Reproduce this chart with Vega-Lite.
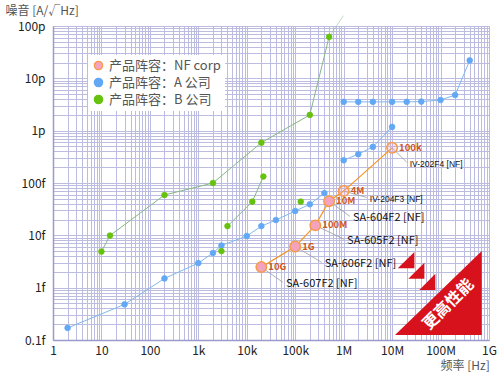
{
  "$schema": "https://vega.github.io/schema/vega-lite/v6.json",
  "width": 436,
  "height": 314,
  "autosize": {"type": "none"},
  "padding": {"left": 53, "top": 26, "right": 11, "bottom": 37},
  "background": "white",
  "config": {"font": "Noto Sans CJK SC", "view": {"stroke": null}},
  "datasets": {
    "pts": [
      {"s": "产品阵容：A 公司", "seg": "a1", "f": 2, "n": 1.7e-16},
      {"s": "产品阵容：A 公司", "seg": "a1", "f": 30, "n": 4.8e-16},
      {"s": "产品阵容：A 公司", "seg": "a1", "f": 200, "n": 1.5e-15},
      {"s": "产品阵容：A 公司", "seg": "a1", "f": 1000, "n": 2.95e-15},
      {"s": "产品阵容：A 公司", "seg": "a1", "f": 2000, "n": 4.6e-15},
      {"s": "产品阵容：A 公司", "seg": "a1", "f": 3000, "n": 6.4e-15},
      {"s": "产品阵容：A 公司", "seg": "a1", "f": 10000, "n": 9.7e-15},
      {"s": "产品阵容：A 公司", "seg": "a1", "f": 20000, "n": 1.5e-14},
      {"s": "产品阵容：A 公司", "seg": "a1", "f": 40000, "n": 1.96e-14},
      {"s": "产品阵容：A 公司", "seg": "a1", "f": 100000, "n": 2.92e-14},
      {"s": "产品阵容：A 公司", "seg": "a1", "f": 200000, "n": 3.92e-14},
      {"s": "产品阵容：A 公司", "seg": "a1", "f": 400000, "n": 6.4e-14},
      {"s": "产品阵容：A 公司", "seg": "a2", "f": 1000000, "n": 2.72e-13},
      {"s": "产品阵容：A 公司", "seg": "a2", "f": 2000000, "n": 3.55e-13},
      {"s": "产品阵容：A 公司", "seg": "a2", "f": 4000000, "n": 4.9e-13},
      {"s": "产品阵容：A 公司", "seg": "a2", "f": 10000000, "n": 1.18e-12},
      {"s": "产品阵容：A 公司", "seg": "a3", "f": 1000000, "n": 3.55e-12},
      {"s": "产品阵容：A 公司", "seg": "a3", "f": 2000000, "n": 3.55e-12},
      {"s": "产品阵容：A 公司", "seg": "a3", "f": 4000000, "n": 3.55e-12},
      {"s": "产品阵容：A 公司", "seg": "a3", "f": 10000000, "n": 3.55e-12},
      {"s": "产品阵容：A 公司", "seg": "a3", "f": 20000000, "n": 3.55e-12},
      {"s": "产品阵容：A 公司", "seg": "a3", "f": 40000000, "n": 3.6e-12},
      {"s": "产品阵容：A 公司", "seg": "a3", "f": 100000000, "n": 3.85e-12},
      {"s": "产品阵容：A 公司", "seg": "a3", "f": 200000000, "n": 4.8e-12},
      {"s": "产品阵容：A 公司", "seg": "a3", "f": 400000000, "n": 2.2e-11},
      {"s": "产品阵容：B 公司", "seg": "b1", "f": 10, "n": 4.9e-15},
      {"s": "产品阵容：B 公司", "seg": "b1", "f": 15, "n": 9.9e-15},
      {"s": "产品阵容：B 公司", "seg": "b1", "f": 200, "n": 5.9e-14},
      {"s": "产品阵容：B 公司", "seg": "b1", "f": 2000, "n": 1e-13},
      {"s": "产品阵容：B 公司", "seg": "b1", "f": 20000, "n": 5.9e-13},
      {"s": "产品阵容：B 公司", "seg": "b1", "f": 200000, "n": 2e-12},
      {"s": "产品阵容：B 公司", "seg": "b1", "f": 500000, "n": 6.2e-11},
      {"s": "产品阵容：B 公司", "seg": "b2", "f": 4000, "n": 1.5e-14},
      {"s": "产品阵容：B 公司", "seg": "b2", "f": 13000, "n": 4.4e-14},
      {"s": "产品阵容：B 公司", "seg": "b2", "f": 22000, "n": 1.33e-13},
      {"s": "产品阵容：B 公司", "seg": "b3", "f": 3000, "n": 5e-15},
      {"s": "产品阵容：B 公司", "seg": "b4", "f": 130000, "n": 4.4e-14},
      {"s": "产品阵容：NF corp", "seg": "nf", "t": "SA", "lab": "10G", "f": 20000, "n": 2.47e-15},
      {"s": "产品阵容：NF corp", "seg": "nf", "t": "SA", "lab": "1G", "f": 100000, "n": 6.1e-15},
      {"s": "产品阵容：NF corp", "seg": "nf", "t": "SA", "lab": "100M", "f": 260000, "n": 1.55e-14},
      {"s": "产品阵容：NF corp", "seg": "nf", "t": "SA", "lab": "10M", "f": 500000, "n": 4.5e-14},
      {"s": "产品阵容：NF corp", "seg": "nf", "t": "IV", "lab": "4M", "f": 1000000, "n": 7e-14},
      {"s": "产品阵容：NF corp", "seg": "nf", "t": "IV", "lab": "100k", "f": 10000000, "n": 4.7e-13}
    ],
    "ext": [
      {"f": 500000, "n": 6.2e-11},
      {"f": 985000, "n": 1.57e-10}
    ],
    "ann": [
      {"t": "SA", "f": 20000, "n": 2.47e-15, "lf": 56000, "ln": 1.26e-15, "name": "SA-607F2 [NF]"},
      {"t": "SA", "f": 100000, "n": 6.1e-15, "lf": 352000, "ln": 3.04e-15, "name": "SA-606F2 [NF]"},
      {"t": "SA", "f": 260000, "n": 1.55e-14, "lf": 1020000, "ln": 8.4e-15, "name": "SA-605F2 [NF]"},
      {"t": "SA", "f": 500000, "n": 4.5e-14, "lf": 1350000, "ln": 2.3e-14, "name": "SA-604F2 [NF]"},
      {"t": "IV", "f": 1000000, "n": 7e-14, "lf": 3000000, "ln": 5.3e-14, "name": "IV-204F3 [NF]"},
      {"t": "IV", "f": 10000000, "n": 4.7e-13, "lf": 20000000, "ln": 2.5e-13, "name": "IV-202F4 [NF]"}
    ],
    "tri": [
      {"id": "big", "f": 11500000, "n": 1.24e-16, "n2": 1.24e-16},
      {"id": "big", "f": 708000000, "n": 5.0e-15, "n2": 1.24e-16},
      {"id": "t1", "f": 13100000, "n": 2.34e-15, "n2": 2.34e-15},
      {"id": "t1", "f": 28800000, "n": 4.8e-15, "n2": 2.34e-15},
      {"id": "t2", "f": 21600000, "n": 1.48e-15, "n2": 1.48e-15},
      {"id": "t2", "f": 46300000, "n": 3.0e-15, "n2": 1.48e-15},
      {"id": "t3", "f": 36500000, "n": 8.98e-16, "n2": 8.98e-16},
      {"id": "t3", "f": 78000000, "n": 1.85e-15, "n2": 8.98e-16}
    ],
    "logo": [
      {"f": 145000000, "n": 4.8e-16, "txt": "更高性能"}
    ]
  },
  "encoding": {
    "x": {
      "field": "f", "type": "quantitative",
      "scale": {"type": "log", "domain": [1, 1000000000], "nice": false},
      "axis": {
        "title": "频率 [Hz]",
        "values": [1,2,3,4,5,6,7,8,9,10,20,30,40,50,60,70,80,90,100,200,300,400,500,600,700,800,900,1000,2000,3000,4000,5000,6000,7000,8000,9000,10000,20000,30000,40000,50000,60000,70000,80000,90000,100000,200000,300000,400000,500000,600000,700000,800000,900000,1000000,2000000,3000000,4000000,5000000,6000000,7000000,8000000,9000000,10000000,20000000,30000000,40000000,50000000,60000000,70000000,80000000,90000000,100000000,200000000,300000000,400000000,500000000,600000000,700000000,800000000,900000000,1000000000],
        "labelExpr": "datum.value==1?'1':datum.value==10?'10':datum.value==100?'100':datum.value==1000?'1k':datum.value==10000?'10k':datum.value==100000?'100k':datum.value==1000000?'1M':datum.value==10000000?'10M':datum.value==100000000?'100M':datum.value==1000000000?'1G':''",
        "grid": true, "gridColor": "#bcbce0", "gridWidth": 1,
        "ticks": false, "domainColor": "#9a9acc", "domainWidth": 1.5,
        "labelFontSize": 12, "labelColor": "#222", "labelPadding": 5,
        "labelFlush": false, "labelOverlap": false,
        "titleFontSize": 12, "titleFontWeight": "normal", "titleColor": "#555",
        "titleX": 387, "titleY": 25, "titleAlign": "left", "titleBaseline": "middle"
      }
    },
    "y": {
      "field": "n", "type": "quantitative",
      "scale": {"type": "log", "domain": [1e-16, 1e-10], "nice": false},
      "axis": {
        "title": "噪音 [A/√Hz]",
        "values": [1e-16,2e-16,3e-16,4e-16,5e-16,6e-16,7e-16,8e-16,9e-16,1e-15,2e-15,3e-15,4e-15,5e-15,6e-15,7e-15,8e-15,9e-15,1e-14,2e-14,3e-14,4e-14,5e-14,6e-14,7e-14,8e-14,9e-14,1e-13,2e-13,3e-13,4e-13,5e-13,6e-13,7e-13,8e-13,9e-13,1e-12,2e-12,3e-12,4e-12,5e-12,6e-12,7e-12,8e-12,9e-12,1e-11,2e-11,3e-11,4e-11,5e-11,6e-11,7e-11,8e-11,9e-11,1e-10],
        "labelExpr": "datum.value==1e-16?'0.1f':datum.value==1e-15?'1f':datum.value==1e-14?'10f':datum.value==1e-13?'100f':datum.value==1e-12?'1p':datum.value==1e-11?'10p':datum.value==1e-10?'100p':''",
        "grid": true, "gridColor": "#bcbce0", "gridWidth": 1,
        "ticks": false, "domainColor": "#9a9acc", "domainWidth": 1.5,
        "labelFontSize": 12, "labelColor": "#222", "labelPadding": 8,
        "labelOverlap": false,
        "titleFontSize": 12, "titleFontWeight": "normal", "titleColor": "#555",
        "titleAngle": 0, "titleX": -48, "titleY": -16, "titleAlign": "left", "titleBaseline": "middle"
      }
    }
  },
  "layer": [
    {
      "data": {"name": "tri"},
      "mark": {"type": "area", "color": "#d7121d", "opacity": 1},
      "encoding": {"y2": {"field": "n2"}, "detail": {"field": "id"}}
    },
    {
      "data": {"name": "ann"},
      "mark": {"type": "rule", "color": "#9a9a9a", "strokeWidth": 0.8},
      "encoding": {"x2": {"field": "lf"}, "y2": {"field": "ln"}}
    },
    {
      "data": {"name": "pts"},
      "transform": [{"filter": "datum.seg[0]==='a'"}],
      "mark": {"type": "line", "color": "#80b8f0", "strokeWidth": 1},
      "encoding": {"detail": {"field": "seg"}}
    },
    {
      "data": {"name": "pts"},
      "transform": [{"filter": "datum.seg[0]==='b'"}],
      "mark": {"type": "line", "color": "#86b886", "strokeWidth": 1},
      "encoding": {"detail": {"field": "seg"}}
    },
    {
      "data": {"name": "ext"},
      "mark": {"type": "line", "color": "#86b886", "strokeWidth": 1, "opacity": 0.5},
      "encoding": {}
    },
    {
      "data": {"name": "pts"},
      "transform": [{"filter": "datum.seg==='nf'"}],
      "mark": {"type": "line", "color": "#f7941d", "strokeWidth": 1.2},
      "encoding": {}
    },
    {
      "data": {"name": "pts"},
      "mark": {"type": "point", "filled": true, "opacity": 1},
      "encoding": {
        "fill": {
          "field": "s", "type": "nominal",
          "scale": {"domain": ["产品阵容：NF corp", "产品阵容：A 公司", "产品阵容：B 公司"], "range": ["#f4a3bf", "#62a8f5", "#66c20e"]},
          "legend": {
            "orient": "none", "legendX": 35, "legendY": 29, "title": null,
            "labelFontSize": 13, "labelColor": "#555", "symbolType": "circle",
            "symbolSize": 70, "symbolStrokeWidth": 1.2, "rowPadding": 2, "padding": 4,
            "fillColor": "white", "labelOffset": 4
          }
        },
        "stroke": {
          "field": "s", "type": "nominal",
          "scale": {"domain": ["产品阵容：NF corp", "产品阵容：A 公司", "产品阵容：B 公司"], "range": ["#f79a4a", "#62a8f5", "#66c20e"]},
          "legend": {
            "orient": "none", "legendX": 35, "legendY": 29, "title": null,
            "labelFontSize": 13, "labelColor": "#555", "symbolType": "circle",
            "symbolSize": 70, "symbolStrokeWidth": 1.2, "rowPadding": 2, "padding": 4,
            "fillColor": "white", "labelOffset": 4
          }
        },
        "size": {"condition": {"test": "datum.seg==='nf'", "value": 110}, "value": 32},
        "fillOpacity": {"condition": {"test": "datum.t==='IV'", "value": 0.3}, "value": 1},
        "strokeWidth": {"condition": {"test": "datum.seg==='nf'", "value": 1.5}, "value": 0.8}
      }
    },
    {
      "data": {"name": "pts"},
      "transform": [{"filter": "datum.seg==='nf'"}],
      "mark": {"type": "text", "align": "left", "baseline": "middle", "dx": 7, "dy": 0, "fontSize": 9.5, "fontWeight": "bold", "color": "#d0561e"},
      "encoding": {"text": {"field": "lab"}}
    },
    {
      "data": {"name": "ann"},
      "transform": [{"filter": "datum.t==='SA'"}],
      "mark": {"type": "text", "align": "left", "baseline": "middle", "dx": 3, "dy": 2, "fontSize": 11, "color": "#111"},
      "encoding": {"x": {"field": "lf", "type": "quantitative"}, "y": {"field": "ln", "type": "quantitative"}, "text": {"field": "name"}}
    },
    {
      "data": {"name": "ann"},
      "transform": [{"filter": "datum.t==='IV'"}],
      "mark": {"type": "text", "align": "left", "baseline": "middle", "dx": 3, "dy": 2, "fontSize": 8.5, "font": "Liberation Sans", "color": "#111"},
      "encoding": {"x": {"field": "lf", "type": "quantitative"}, "y": {"field": "ln", "type": "quantitative"}, "text": {"field": "name"}}
    },
    {
      "data": {"name": "logo"},
      "mark": {"type": "text", "align": "center", "baseline": "middle", "angle": 315, "fontSize": 16, "fontWeight": "bold", "color": "white"},
      "encoding": {"text": {"field": "txt"}}
    }
  ]
}
